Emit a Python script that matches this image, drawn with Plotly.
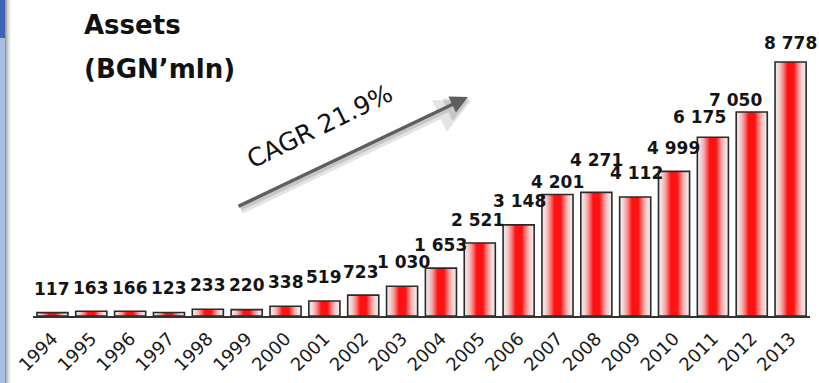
import plotly.graph_objects as go

# Total assets, BGN million
years = [str(y) for y in range(1994, 2014)]
assets = [117, 163, 166, 123, 233, 220, 338, 519, 723, 1030,
          1653, 2521, 3148, 4201, 4271, 4112, 4999, 6175, 7050, 8778]

# label nudges (pixels) so neighbouring value labels do not collide
label_dy = [24, 23, 23, 24, 24, 25, 24, 24, 23, 24,
            23, 23, 24, 12, 32, 24, 23, 20, 12, 19]
label_dx = [0, 0, 0, 0, 0, 0, 0, 0, -2, 1,
            0, -2, 1, 0, 0, 1, -1, -13, -16, 0]

PALE = (240, 232, 232)
RED = (255, 18, 18)
BAR_W = 0.8
N_LAYERS = 18

W, H = 819, 383
L, R, T, B = 33, 9, 10, 67
PW, PH = W - L - R, H - T - B


def px(xp):
    return (xp - L) / PW


def py(yp):
    return (H - B - yp) / PH


def mix(t):
    f = min(1.0, t / 0.8) ** 1.8
    r, g, b = (round(p + (q - p) * f) for p, q in zip(PALE, RED))
    return f"rgb({r},{g},{b})"


fig = go.Figure()

# horizontal pale-red-pale gradient built from nested overlaid bars
for k in range(N_LAYERS):
    t = k / (N_LAYERS - 1)
    fig.add_trace(go.Bar(
        x=list(range(len(years))), y=assets, width=BAR_W * (1 - 0.95 * t),
        marker=dict(color=mix(t), line=dict(width=0)),
        hoverinfo="skip", showlegend=False,
    ))

# bar outlines
fig.add_trace(go.Bar(
    x=list(range(len(years))), y=assets, width=BAR_W,
    marker=dict(color="rgba(0,0,0,0)", line=dict(color="#2a2a2a", width=1.6)),
    showlegend=False,
))

value_font = dict(family="DejaVu Sans", size=17, color="#141414", weight="bold")
title_font = dict(family="DejaVu Sans", size=26, color="#111111", weight="bold")

annotations = []
for i, (v, dy, dx) in enumerate(zip(assets, label_dy, label_dx)):
    annotations.append(dict(
        x=i, y=v, xref="x", yref="y", text=f"{v:,}".replace(",", " "),
        showarrow=False, yanchor="middle", xanchor="center",
        yshift=dy, xshift=dx, font=value_font,
    ))

annotations += [
    dict(x=px(82), y=py(36), xref="paper", yref="paper", text="Assets",
         showarrow=False, xanchor="left", yanchor="bottom", yshift=-6,
         font=title_font),
    dict(x=px(82), y=py(80), xref="paper", yref="paper", text="(BGN’mln)",
         showarrow=False, xanchor="left", yanchor="bottom", yshift=-6,
         font=title_font),
    # growth arrow: soft shadow then the arrow itself
    dict(x=px(471), y=py(101), xref="paper", yref="paper", ax=-231, ay=110,
         showarrow=True, arrowhead=2, arrowsize=1, arrowwidth=7, text="",
         arrowcolor="rgba(0,0,0,0.10)"),
    dict(x=px(470), y=py(99), xref="paper", yref="paper", ax=-231, ay=110,
         showarrow=True, arrowhead=2, arrowsize=1, arrowwidth=5, text="",
         arrowcolor="rgba(0,0,0,0.12)"),
    dict(x=px(468), y=py(97), xref="paper", yref="paper", ax=-231, ay=110,
         showarrow=True, arrowhead=2, arrowsize=1, arrowwidth=3.5, text="",
         arrowcolor="#5e5e5e"),
    dict(x=px(320), y=py(127), xref="paper", yref="paper", text="CAGR 21.9%",
         showarrow=False, textangle=-26,
         font=dict(family="DejaVu Sans", size=25, color="#111111")),
]

# slide edge strip on the left
shapes = [
    dict(type="rect", xref="paper", yref="paper", x0=px(0), x1=px(5),
         y0=py(H), y1=py(0), fillcolor="#a7bfe2", line=dict(width=0), layer="above"),
    dict(type="rect", xref="paper", yref="paper", x0=px(0), x1=px(5),
         y0=py(38), y1=py(0), fillcolor="#3d64b8", line=dict(width=0), layer="above"),
]
for i, g in enumerate(["#9a9a9a", "#b4b4b4", "#cbcbcb", "#dddddd", "#ececec", "#f6f6f6"]):
    shapes.append(dict(type="rect", xref="paper", yref="paper",
                       x0=px(5 + i), x1=px(6 + i), y0=py(H), y1=py(0),
                       fillcolor=g, line=dict(width=0), layer="above"))

fig.update_layout(
    width=W, height=H,
    margin=dict(l=L, r=R, t=T, b=B),
    paper_bgcolor="white", plot_bgcolor="white",
    barmode="overlay", bargap=0.2,
    annotations=annotations, shapes=shapes,
    xaxis=dict(
        range=[-0.5, 19.5], tickangle=-45,
        tickmode="array", tickvals=list(range(len(years))), ticktext=years,
        showline=True, linecolor="#333333", linewidth=2,
        showgrid=False, zeroline=False, ticks="", ticklabelstandoff=3,
        automargin=False,
        tickfont=dict(family="DejaVu Sans", size=18, color="#1a1a1a"),
    ),
    yaxis=dict(range=[0, 8778 * PH / 254], visible=False, showgrid=False),
    showlegend=False,
)

fig.write_html("out.html")
